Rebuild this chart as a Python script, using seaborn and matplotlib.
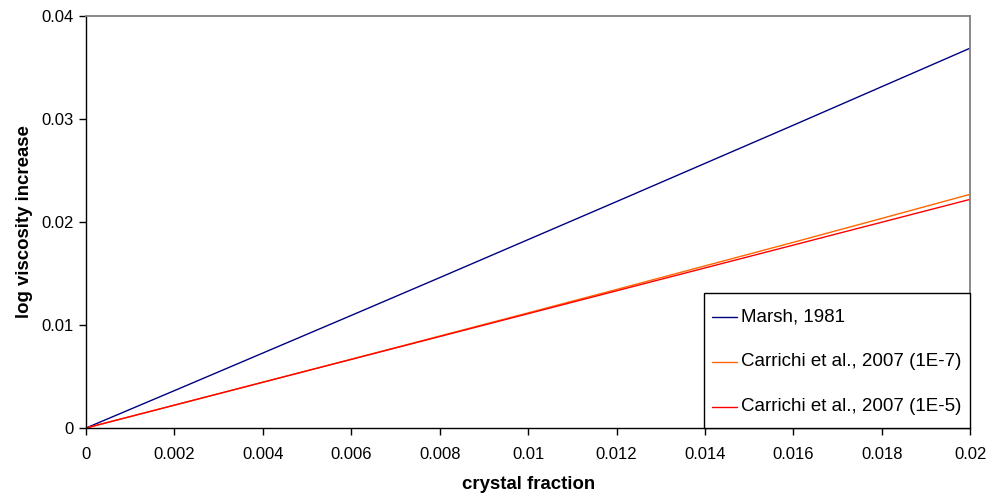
import matplotlib
matplotlib.use("Agg")
import matplotlib.pyplot as plt
import seaborn as sns
import numpy as np
import pandas as pd

# crystal fraction sample points
crystal_fraction = [0.0, 0.002, 0.004, 0.006, 0.008, 0.010,
                    0.012, 0.014, 0.016, 0.018, 0.020]

# log viscosity increase for each model
marsh_1981 = [0.0, 0.00363, 0.00728, 0.01093, 0.01460, 0.01829,
              0.02198, 0.02569, 0.02940, 0.03314, 0.03688]
carrichi_1e7 = [0.0, 0.00222, 0.00445, 0.00668, 0.00893, 0.01118,
                0.01345, 0.01574, 0.01803, 0.02035, 0.02269]
carrichi_1e5 = [0.0, 0.00222, 0.00444, 0.00666, 0.00888, 0.01110,
                0.01332, 0.01554, 0.01776, 0.01998, 0.02220]

series_names = ["Marsh, 1981",
                "Carrichi et al., 2007 (1E-7)",
                "Carrichi et al., 2007 (1E-5)"]
series_colors = ["#000080", "#FF6600", "#FF0000"]

x_ticks = [0, 0.002, 0.004, 0.006, 0.008, 0.01, 0.012, 0.014, 0.016, 0.018, 0.02]
x_tick_labels = ["0", "0.002", "0.004", "0.006", "0.008", "0.01",
                 "0.012", "0.014", "0.016", "0.018", "0.02"]
y_ticks = [0, 0.01, 0.02, 0.03, 0.04]
y_tick_labels = ["0", "0.01", "0.02", "0.03", "0.04"]

frames = []
for name, values in zip(series_names, [marsh_1981, carrichi_1e7, carrichi_1e5]):
    frames.append(pd.DataFrame({"crystal fraction": crystal_fraction,
                                "log viscosity increase": values,
                                "model": name}))
df = pd.concat(frames, ignore_index=True)

sns.set_style("white")
plt.rcParams["font.family"] = ["Liberation Sans", "DejaVu Sans"]
plt.rcParams["text.color"] = "black"
plt.rcParams["axes.labelcolor"] = "black"
plt.rcParams["xtick.color"] = "black"
plt.rcParams["ytick.color"] = "black"

fig = plt.figure(figsize=(9.89, 4.94), dpi=100)
ax = fig.add_axes([0.087, 0.1336, 0.894, 0.834])

sns.lineplot(data=df, x="crystal fraction", y="log viscosity increase",
             hue="model", hue_order=series_names,
             palette=dict(zip(series_names, series_colors)),
             linewidth=1.0, ax=ax, legend=False)

ax.set_xlim(0, 0.02)
ax.set_ylim(0, 0.04)
ax.set_xticks(x_ticks)
ax.set_xticklabels(x_tick_labels, fontsize=12, color="black")
ax.set_yticks(y_ticks)
ax.set_yticklabels(y_tick_labels, fontsize=12, color="black")
ax.tick_params(axis="both", direction="out", length=5, width=1,
               color="black", bottom=True, left=True)
ax.tick_params(axis="x", pad=9)
ax.tick_params(axis="y", pad=4)

for side in ("left", "bottom"):
    ax.spines[side].set_color("black")
    ax.spines[side].set_linewidth(1.0)
for side in ("top", "right"):
    ax.spines[side].set_color("#808080")
    ax.spines[side].set_linewidth(1.3)

ax.set_xlabel("crystal fraction", fontsize=13.4, fontweight="bold",
              color="black", labelpad=10)
ax.set_ylabel("log viscosity increase", fontsize=13.4, fontweight="bold",
              color="black", labelpad=6)

handles = ax.get_lines()[:3]
leg = ax.legend(handles, series_names, loc="lower right",
                bbox_to_anchor=(1.0, 0.0), borderaxespad=0,
                fontsize=13.5, frameon=True, fancybox=False,
                handlelength=1.3, handleheight=2.0, handletextpad=0.25,
                labelspacing=0.84, borderpad=0.45)
leg.get_frame().set_edgecolor("black")
leg.get_frame().set_linewidth(1.0)
leg.get_frame().set_facecolor("white")
leg.get_frame().set_alpha(1.0)
for txt in leg.get_texts():
    txt.set_color("black")
# centre the legend handle lines on their labels
for line in leg.get_lines():
    line.set_ydata(np.asarray(line.get_ydata()) - 4.3)

fig.savefig("out.png", dpi=100)
